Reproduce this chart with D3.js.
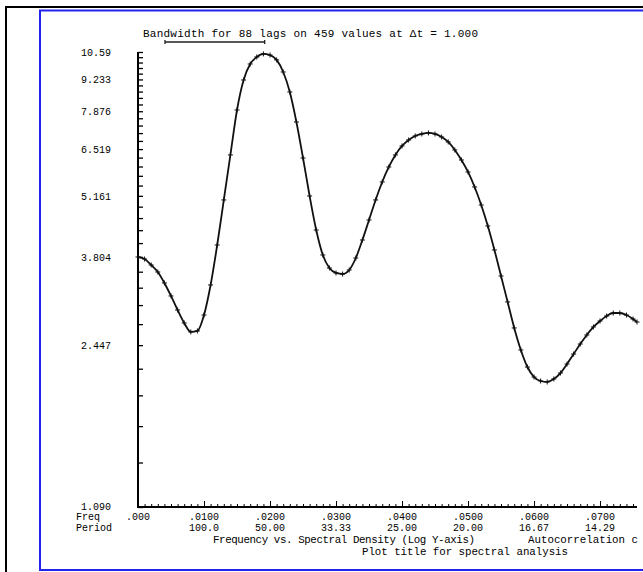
<!DOCTYPE html>
<html>
<head>
<meta charset="utf-8">
<script src="https://cdn.jsdelivr.net/npm/d3@7"></script>
<style>
  body { margin: 0; background: #fff; }
  svg text { font-family: "Liberation Mono", "DejaVu Sans Mono", monospace; fill: #000; }
</style>
</head>
<body>
<div id="chart"></div>
<script>
// frequency points (cycles / time unit)
const freqs = d3.range(0, 76).map(k => k / 1000).concat([0.0756]);

// spectral density
const density = [
  3.802, 3.764, 3.653, 3.527, 3.339, 3.129, 2.917, 2.734, 2.614, 2.627,
  2.845, 3.306, 4.037, 5.056, 6.331, 7.926, 9.208, 9.975, 10.33, 10.49,
  10.43, 10.18, 9.584, 8.672, 7.465, 6.236, 5.157, 4.351, 3.840, 3.599,
  3.510, 3.492, 3.563, 3.783, 4.139, 4.575, 5.056, 5.531, 5.962, 6.331,
  6.622, 6.823, 6.961, 7.031, 7.066, 7.031, 6.926, 6.756, 6.491, 6.174,
  5.815, 5.395, 4.931, 4.439, 3.938, 3.458, 3.037, 2.667, 2.389, 2.194,
  2.087, 2.046, 2.036, 2.067, 2.129, 2.227, 2.341, 2.461, 2.575, 2.680,
  2.761, 2.831, 2.874, 2.874, 2.845, 2.789, 2.747
];

// axis labels
const yLabels = [1.090, 2.447, 3.804, 5.161, 6.519, 7.876, 9.233, 10.59];
const xLabels = [".000", ".0100", ".0200", ".0300", ".0400", ".0500", ".0600", ".0700"];
const periodLabels = ["", "100.0", "50.00", "33.33", "25.00", "20.00", "16.67", "14.29"];
const bandwidth = 0.0151;

const W = 643, H = 572;
const svg = d3.select("#chart").append("svg")
  .attr("width", W).attr("height", H);

// frames
svg.append("line").attr("x1", 6).attr("x2", 6).attr("y1", 6).attr("y2", H)
  .attr("stroke", "#000").attr("stroke-width", 2);
svg.append("line").attr("x1", 5).attr("x2", W).attr("y1", 7).attr("y2", 7)
  .attr("stroke", "#000").attr("stroke-width", 2);
svg.append("path")
  .attr("d", `M${W + 5},10.5 H40 V570 H${W + 5}`)
  .attr("fill", "none").attr("stroke", "#2323ee").attr("stroke-width", 2);

// scales
const x = d3.scaleLinear().domain([0, 0.0756]).range([138, 637]);
const y = d3.scaleLog().domain([1.090, 10.59]).range([507, 52]);

// y ticks: labelled + 4 unlabelled between each pair
const yTicks = [];
yLabels.forEach((v, i) => {
  if (i === yLabels.length - 1) { yTicks.push(v); return; }
  const step = (yLabels[i + 1] - v) / 5;
  for (let j = 0; j < 5; j++) yTicks.push(v + j * step);
});

svg.append("g")
  .attr("transform", "translate(138,0)")
  .call(d3.axisRight(y).tickValues(yTicks).tickSize(5).tickFormat(""))
  .call(g => g.select(".domain").attr("stroke-width", 2).attr("d", "M0,52V508"))
  .call(g => g.selectAll(".tick line").attr("stroke-width", 1.3));

svg.append("g").selectAll("text")
  .data(yLabels).enter().append("text")
  .attr("x", 111).attr("y", d => d === 1.090 ? 510 : y(d) + 4)
  .attr("text-anchor", "end")
  .style("font-size", "10px")
  .text(d => d === 10.59 ? "10.59" : d.toFixed(3));

// x axis
const xMinor = d3.range(0, 76).map(k => k / 1000);
svg.append("g")
  .attr("transform", "translate(0,507)")
  .call(d3.axisTop(x).tickValues(xMinor).tickSize(3).tickFormat(""))
  .call(g => g.select(".domain").attr("stroke-width", 2).attr("d", "M137,0H637"))
  .call(g => g.selectAll(".tick line")
    .attr("y2", (d, i) => i % 10 === 0 ? -6 : -3)
    .attr("stroke-width", 1));

svg.append("g").selectAll("text")
  .data(xLabels).enter().append("text")
  .attr("x", (d, i) => x(i / 100)).attr("y", 520)
  .attr("text-anchor", "middle").style("font-size", "10px")
  .text(d => d);
svg.append("g").selectAll("text")
  .data(periodLabels).enter().append("text")
  .attr("x", (d, i) => x(i / 100)).attr("y", 531)
  .attr("text-anchor", "middle").style("font-size", "10px")
  .text(d => d);

svg.append("text").attr("x", 76).attr("y", 520).style("font-size", "10px").text("Freq");
svg.append("text").attr("x", 76).attr("y", 531).style("font-size", "10px").text("Period");

svg.append("text").attr("x", 213).attr("y", 543).style("font-size", "10.8px")
  .attr("textLength", 262).text("Frequency vs. Spectral Density (Log Y-axis)");
svg.append("text").attr("x", 528).attr("y", 543).style("font-size", "10.8px")
  .attr("textLength", 110).text("Autocorrelation c");
svg.append("text").attr("x", 362).attr("y", 555).style("font-size", "10.8px")
  .attr("textLength", 206).text("Plot title for spectral analysis");

// bandwidth header
svg.append("text").attr("x", 143).attr("y", 37).style("font-size", "11px")
  .attr("textLength", 335).text("Bandwidth for 88 lags on 459 values at \u0394t = 1.000");
const bx0 = 165, bx1 = bx0 + (x(bandwidth) - x(0));
svg.append("path")
  .attr("d", `M${bx0},40V44M${bx0},42H${bx1}M${bx1},40V44`)
  .attr("stroke", "#222").attr("stroke-width", 1.3).attr("fill", "none");

// curve
const pts = freqs.map((f, i) => [f, density[i]]);
svg.append("path")
  .datum(pts)
  .attr("fill", "none").attr("stroke", "#111").attr("stroke-width", 1.8)
  .attr("d", d3.line().x(d => x(d[0])).y(d => y(d[1])).curve(d3.curveMonotoneX));

svg.append("g").selectAll("path")
  .data(pts).enter().append("path")
  .attr("d", d => `M${x(d[0]) - 2.5},${y(d[1])}h5M${x(d[0])},${y(d[1]) - 2.5}v5`)
  .attr("stroke", "#111").attr("stroke-width", 1);
</script>
</body>
</html>
